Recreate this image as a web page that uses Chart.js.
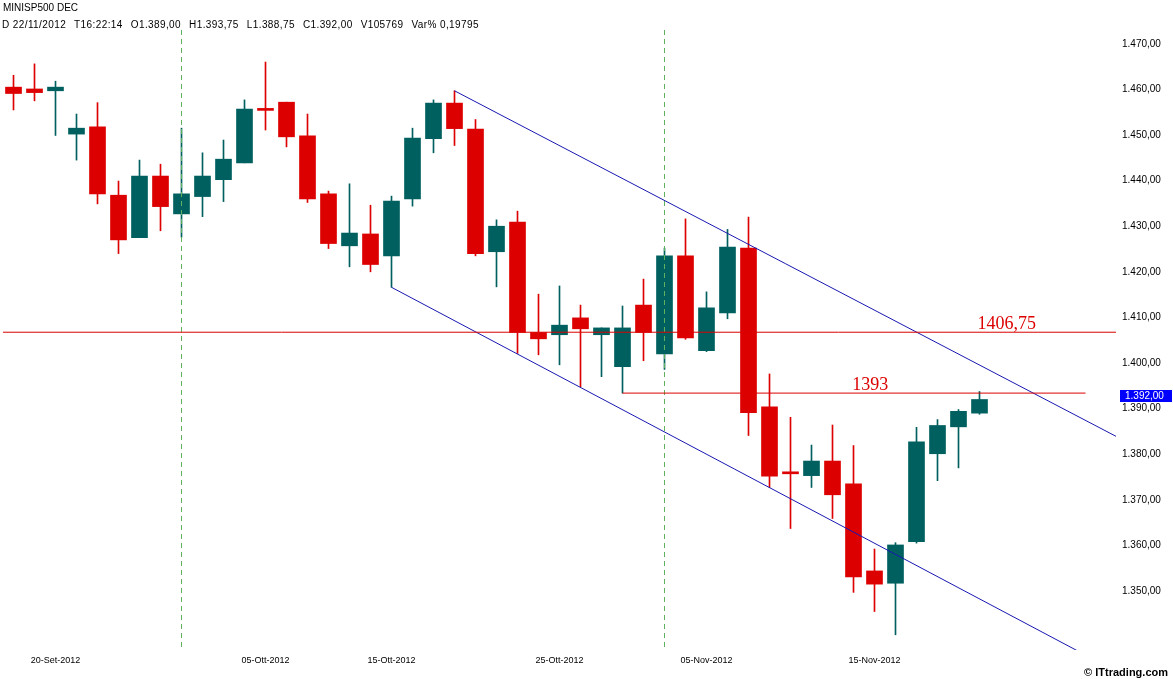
<!DOCTYPE html>
<html lang="it">
<head>
  <meta charset="UTF-8">
  <title>MINISP500 DEC</title>
  <script src="https://cdn.jsdelivr.net/npm/chart.js"></script>
  <style>
    html, body {
      margin: 0;
      padding: 0;
      background: #ffffff;
    }
    #wrap {
      width: 1173px;
      height: 679px;
      position: relative;
    }
  </style>
</head>
<body>
  <div id="wrap">
    <canvas id="chart"></canvas>
  </div>

  <script>
    // trading days, 19 Sep - 22 Nov 2012, plus empty room on the right
    const dates = [
      '19/09', '20/09', '21/09', '24/09', '25/09', '26/09', '27/09', '28/09',
      '01/10', '02/10', '03/10', '04/10', '05/10', '08/10', '09/10', '10/10', '11/10', '12/10',
      '15/10', '16/10', '17/10', '18/10', '19/10', '22/10', '23/10', '24/10', '25/10', '26/10',
      '29/10', '30/10', '31/10', '01/11', '02/11', '05/11', '06/11', '07/11', '08/11', '09/11',
      '12/11', '13/11', '14/11', '15/11', '16/11', '19/11', '20/11', '21/11', '22/11',
      '', '', '', '', '', ''
    ];

    const opens = [1460.5, 1460.1, 1459.7, 1450.2, 1451.8, 1436.8, 1427.5, 1441.0, 1432.7, 1436.5,
      1440.2, 1443.9, 1455.7, 1457.2, 1449.8, 1437.1, 1425.7, 1428.3, 1423.5, 1436.0,
      1449.2, 1457.0, 1451.3, 1424.4, 1430.9, 1406.7, 1406.2, 1409.9, 1406.2, 1399.2,
      1412.7, 1402.0, 1423.5, 1402.7, 1411.0, 1425.2, 1390.4, 1375.9, 1375.3, 1378.5,
      1373.5, 1354.4, 1351.7, 1360.8, 1380.1, 1386.0, 1389.0];
    const highs = [1463.1, 1465.6, 1461.8, 1454.6, 1457.1, 1439.9, 1444.5, 1443.6, 1451.5, 1446.1,
      1448.9, 1457.7, 1466.0, 1457.2, 1454.6, 1437.7, 1439.3, 1434.6, 1436.6, 1451.5,
      1457.7, 1459.7, 1453.4, 1431.4, 1433.3, 1415.1, 1416.9, 1412.7, 1407.7, 1412.5,
      1418.4, 1425.2, 1431.6, 1415.6, 1429.3, 1432.0, 1397.6, 1388.1, 1382.0, 1386.4,
      1381.9, 1359.2, 1360.6, 1385.9, 1387.6, 1389.8, 1393.75];
    const lows = [1455.5, 1457.5, 1449.9, 1444.5, 1434.9, 1424.0, 1427.5, 1429.0, 1427.6, 1432.1,
      1435.4, 1443.9, 1451.1, 1447.4, 1435.2, 1425.1, 1421.1, 1420.0, 1416.6, 1434.4,
      1446.1, 1447.7, 1423.5, 1416.7, 1402.1, 1401.8, 1399.6, 1394.8, 1397.0, 1393.4,
      1400.5, 1398.6, 1405.2, 1402.5, 1409.7, 1384.1, 1372.7, 1363.7, 1372.7, 1365.9,
      1349.7, 1345.5, 1340.4, 1360.5, 1374.2, 1377.0, 1388.75];
    const closes = [1459.1, 1459.3, 1460.5, 1451.5, 1437.1, 1427.0, 1441.0, 1434.3, 1437.1, 1441.0,
      1444.7, 1455.7, 1455.4, 1449.6, 1436.0, 1426.2, 1428.5, 1421.6, 1435.5, 1449.3,
      1457.0, 1451.4, 1424.0, 1430.0, 1406.7, 1405.3, 1408.3, 1407.5, 1407.7, 1407.7,
      1406.7, 1423.5, 1405.5, 1412.1, 1425.4, 1389.1, 1375.2, 1375.7, 1378.5, 1371.1,
      1353.1, 1351.5, 1360.1, 1382.7, 1386.3, 1389.4, 1392.0];

    // x axis labels (shown under these candles)
    const xTickIdx = [2, 12, 18, 26, 33, 41];
    const xTickText = ['20-Set-2012', '05-Ott-2012', '15-Ott-2012', '25-Ott-2012', '05-Nov-2012', '15-Nov-2012'];
    const yTicks = [1470, 1460, 1450, 1440, 1430, 1420, 1410, 1400, 1390, 1380, 1370, 1360, 1350];
    const yMin = 1337.06, yMax = 1473.03;

    // month separators (first session of Oct / Nov)
    const monthSep = [8, 31];

    // drawn lines: [x1, y1, x2, y2] in candle index / price
    const channelTop = [21, 1459.7, 52.55, 1383.8];
    const channelBottom = [18, 1416.6, 50.7, 1336.8];
    const level1 = [-0.5, 1406.75, 52.55, 1406.75];
    const level2 = [29, 1393.4, 51.05, 1393.4];
    const levelText = [['1406,75', 47.3, 1406.75], ['1393', 40.8, 1393.4]];

    const lastPrice = 1392.0;

    // header quote line
    const header = ['D 22/11/2012', 'T16:22:14', 'O1.389,00', 'H1.393,75',
      'L1.388,75', 'C1.392,00', 'V105769', 'Var% 0,19795'];

    const RED = '#dc0000';
    const TEAL = '#006060';
    const BLUE = '#1818b0';
    const candleColors = opens.map((o, i) => closes[i] < o ? RED : TEAL);

    const seg = (s) => [{ x: s[0], y: s[1] }, { x: s[2], y: s[3] }];
    const priceFmt = new Intl.NumberFormat('de-DE', { minimumFractionDigits: 2, maximumFractionDigits: 2 });

    const lineDs = (pts, color, dash) => ({
      type: 'line',
      xAxisID: 'x2',
      data: pts,
      borderColor: color,
      borderWidth: 1,
      borderDash: dash || [],
      pointRadius: 0,
      fill: false,
      order: 0
    });

    const extras = {
      id: 'extras',
      afterDraw(chart) {
        const ctx = chart.ctx;
        const x2 = chart.scales.x2;
        const y = chart.scales.y;
        ctx.save();

        // header
        ctx.fillStyle = '#000000';
        ctx.font = '10px "Liberation Sans", Arial, sans-serif';
        ctx.textAlign = 'left';
        ctx.textBaseline = 'alphabetic';
        ctx.fillText('MINISP500 DEC', 3, 11);
        ctx.letterSpacing = '0.4px';
        let hx = 2;
        header.forEach(h => {
          ctx.fillText(h, hx, 28);
          hx += ctx.measureText(h).width + 8;
        });
        ctx.letterSpacing = '0px';

        // level labels
        ctx.fillStyle = RED;
        ctx.font = '18px "Liberation Serif", "Times New Roman", serif';
        ctx.textAlign = 'center';
        levelText.forEach(t => {
          ctx.fillText(t[0], x2.getPixelForValue(t[1]), y.getPixelForValue(t[2]) - 3);
        });

        // last price box on the axis
        const py = y.getPixelForValue(lastPrice) - 3;
        ctx.fillStyle = '#0000ff';
        ctx.fillRect(1120, Math.round(py - 6), 52, 12);
        ctx.fillStyle = '#ffffff';
        ctx.font = '10px "Liberation Sans", Arial, sans-serif';
        ctx.textAlign = 'left';
        ctx.textBaseline = 'middle';
        ctx.fillText(priceFmt.format(lastPrice), 1125, py);

        // copyright
        ctx.fillStyle = '#000000';
        ctx.font = 'bold 11px "Liberation Sans", Arial, sans-serif';
        ctx.textAlign = 'right';
        ctx.textBaseline = 'alphabetic';
        ctx.fillText('\u00A9 ITtrading.com', 1168, 676);
        ctx.restore();
      }
    };

    const datasets = [
      {
        type: 'bar',
        label: 'wick',
        data: lows.map((l, i) => [l, highs[i]]),
        backgroundColor: candleColors,
        barThickness: 1,
        grouped: false,
        order: 2
      },
      {
        type: 'bar',
        label: 'body',
        data: opens.map((o, i) => [o, closes[i]]),
        backgroundColor: candleColors,
        barThickness: 16,
        minBarLength: 2,
        grouped: false,
        order: 1
      },
      lineDs(seg(level1), RED),
      lineDs(seg(level2), RED),
      lineDs(seg(channelTop), BLUE),
      lineDs(seg(channelBottom), BLUE)
    ];
    monthSep.forEach(m => {
      datasets.push(lineDs([{ x: m, y: yMax }, { x: m, y: yMin }], '#5fb05f', [5, 4]));
    });

    new Chart(document.getElementById('chart'), {
      type: 'bar',
      data: { labels: dates, datasets: datasets },
      options: {
        responsive: true,
        maintainAspectRatio: false,
        animation: false,
        layout: { padding: { left: 3, top: 30, right: 0, bottom: 0 } },
        plugins: {
          legend: { display: false },
          tooltip: { enabled: false }
        },
        scales: {
          x: {
            type: 'category',
            offset: true,
            grid: { display: false, drawTicks: false },
            border: { display: false },
            afterFit: (s) => { s.height = 29; },
            ticks: {
              autoSkip: false,
              maxRotation: 0,
              padding: 5,
              color: '#000000',
              font: { family: '"Liberation Sans", Arial, sans-serif', size: 9 },
              callback: (v, i) => {
                const k = xTickIdx.indexOf(i);
                return k >= 0 ? xTickText[k] : '';
              }
            }
          },
          x2: {
            type: 'linear',
            display: false,
            offset: false,
            min: -0.5,
            max: dates.length - 0.5
          },
          y: {
            position: 'right',
            min: yMin,
            max: yMax,
            grid: { display: false, drawTicks: false },
            border: { display: false },
            afterFit: (s) => { s.width = 57; },
            afterBuildTicks: (s) => { s.ticks = yTicks.map(v => ({ value: v })); },
            ticks: {
              padding: 6,
              color: '#000000',
              font: { family: '"Liberation Sans", Arial, sans-serif', size: 10 },
              callback: (v) => priceFmt.format(v)
            }
          }
        }
      },
      plugins: [extras]
    });
  </script>
</body>
</html>
